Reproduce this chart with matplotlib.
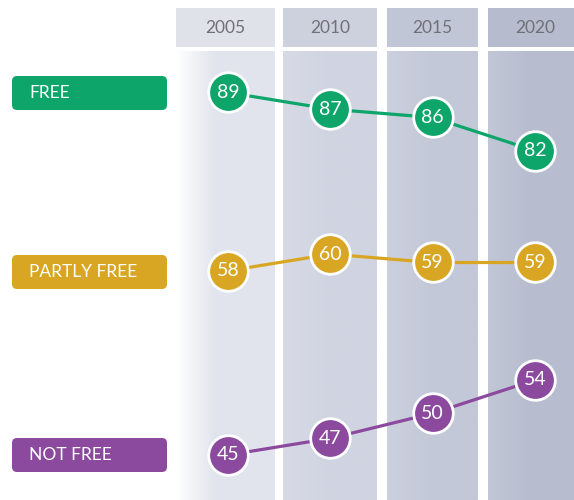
import numpy as np
import matplotlib.pyplot as plt
from matplotlib.patches import FancyBboxPatch

# data
years = [2005, 2010, 2015, 2020]
categories = ["FREE", "PARTLY FREE", "NOT FREE"]
free = [89, 87, 86, 82]
partly_free = [58, 60, 59, 59]
not_free = [45, 47, 50, 54]

series = [free, partly_free, not_free]
colors = ["#0ea56a", "#d8a622", "#8c4a9e"]
# bottom of each series' y window (all windows share the same 60-unit span)
y_bottoms = [40.1, 30.5, 39.6]
span = 60.0

W, H = 574, 500
fig = plt.figure(figsize=(W / 100, H / 100), dpi=100)
plt.rcParams["font.family"] = ["Lato", "DejaVu Sans"]

# background axes in pixel coordinates
bg = fig.add_axes([0, 0, 1, 1])
bg.set_xlim(0, W)
bg.set_ylim(H, 0)
bg.axis("off")

col_edges = [(176, 275), (283, 377), (387, 478), (488, 574)]
head_cols = ["#dfe2e9", "#cdd1dd", "#c1c6d6", "#b6bccd"]
body_cols = ["#e1e4ed", "#d0d4e1", "#c3c8d8", "#b7bdcf"]

for i, (x0, x1) in enumerate(col_edges):
    # header
    bg.add_patch(plt.Rectangle((x0, 8), x1 - x0, 39, color=head_cols[i], lw=0))
    bg.text((x0 + x1) / 2 if i < 3 else 535, 28, str(years[i]), ha="center", va="center",
            fontsize=12.5, color="#707078")
    # body with a soft horizontal gradient
    c = np.array(plt.matplotlib.colors.to_rgb(body_cols[i]))
    grad = np.linspace(0, 1, 60)
    if i == 0:
        w = np.clip(grad * 2.5, 0, 1)
    else:
        w = 0.85 + 0.15 * np.clip(grad * 2, 0, 1)
    img = (1 - w)[:, None] * np.ones(3)[None, :] + w[:, None] * c[None, :]
    bg.imshow(img[None, :, :], extent=(x0, x1, H, 51), aspect="auto", zorder=1)
bg.set_xlim(0, W)
bg.set_ylim(H, 0)

# category label boxes
box_y = [93, 272, 455]
for lab, col, yc in zip(categories, colors, box_y):
    bg.add_patch(FancyBboxPatch((12, yc - 17), 155, 34, boxstyle="round,pad=0,rounding_size=5",
                                fc=col, ec="none", zorder=2))
    bg.text(29, yc, lab, ha="left", va="center", color="white", fontsize=12.5)

# lines with numbered markers, each series in its own window
for vals, col, yb in zip(series, colors, y_bottoms):
    ax = fig.add_axes([0, 0, 1, 1])
    ax.patch.set_alpha(0)
    ax.axis("off")
    ax.set_xlim(2005 - 228 / 20.47, 2005 + (W - 228) / 20.47)
    ax.set_ylim(yb, yb + span)
    ax.plot(years, vals, color=col, lw=2.3, zorder=3)
    ax.plot(years, vals, "o", ms=28.5, mfc=col, mec="white", mew=2, zorder=4)
    for x, v in zip(years, vals):
        ax.text(x, v, str(v), ha="center", va="center", color="white", fontsize=14, zorder=5)

fig.savefig("out.png", dpi=100)
